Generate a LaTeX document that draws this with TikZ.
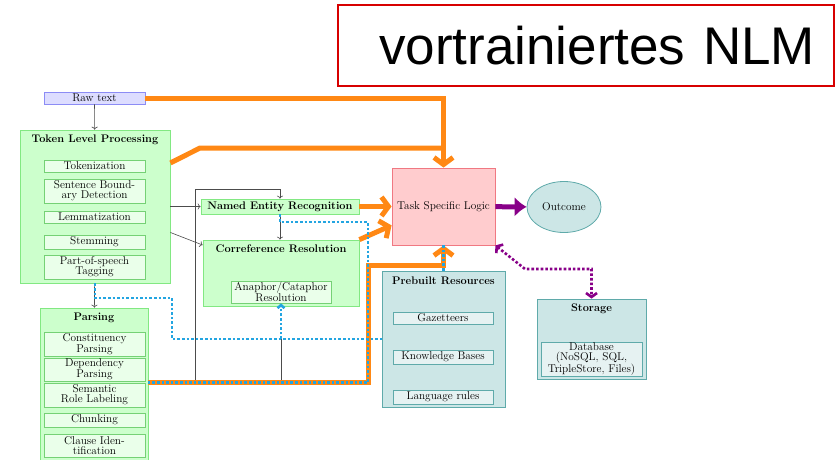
\documentclass[tikz,border=0pt]{standalone}
\usepackage{fontspec}
\usepackage{tikz}
\usetikzlibrary{arrows.meta,positioning,calc,shapes.geometric}
\newfontfamily\slidefont{Liberation Sans}
\definecolor{tokfill}{RGB}{204,255,204}
\definecolor{tokline}{RGB}{130,232,130}
\definecolor{stepfill}{RGB}{234,255,234}
\definecolor{rawfill}{RGB}{221,221,255}
\definecolor{rawline}{RGB}{140,140,245}
\definecolor{taskfill}{RGB}{255,204,206}
\definecolor{taskline}{RGB}{240,120,130}
\definecolor{resfill}{RGB}{204,230,230}
\definecolor{resline}{RGB}{95,170,170}
\definecolor{resitem}{RGB}{230,242,242}
\definecolor{feedorange}{RGB}{255,136,20}
\definecolor{dotblue}{RGB}{35,165,225}
\definecolor{outpurple}{RGB}{136,0,136}
\definecolor{slidered}{RGB}{215,0,0}

\tikzset{
  procbox/.style={draw=tokline, fill=tokfill, line width=0.8pt, inner sep=0pt},
  stepbox/.style={draw=tokline!90!black, fill=stepfill, line width=0.8pt, inner sep=0pt,
    minimum width=101pt, align=center},
  resbox/.style={draw=resline, fill=resfill, line width=0.8pt, inner sep=0pt},
  resitembox/.style={draw=resline, fill=resitem, line width=0.8pt, inner sep=0pt,
    minimum width=100pt, align=center},
  headtext/.style={font=\fontsize{11}{10}\selectfont\bfseries, inner sep=0pt},
  link/.style={draw=black!70, line width=0.6pt},
  feed/.style={draw=feedorange, line width=5pt},
  feedarrow/.style={feed, -{Straight Barb[length=7pt,width=19pt]}},
  bluedots/.style={draw=dotblue, line width=2.6pt, dash pattern=on 2.6pt off 2pt},
  purpledots/.style={draw=outpurple, line width=2.6pt, dash pattern=on 2.6pt off 2pt}
}

\begin{document}
\begin{tikzpicture}[x=1pt,y=-1pt,font=\fontsize{11.3}{10}\selectfont]
  \useasboundingbox (0,0) rectangle (838,459);

  % slide title
  \draw[slidered, line width=2pt] (338,5) rectangle (834,86);
  \node[inner sep=0pt, text width=459pt, align=right, font=\slidefont\fontsize{53}{60}\selectfont]
    (nlm) at (585.5,45.5) {vortrainiertes NLM};

  % input
  \node[draw=rawline, fill=rawfill, line width=0.8pt, inner sep=0pt,
    minimum width=101pt, minimum height=12pt] (raw) at (94.5,98) {Raw text};

  % token level processing
  \node[procbox, minimum width=150pt, minimum height=153pt] (tok) at (95,206.5) {};
  \node[headtext] at (95,140) {Token Level Processing};
  \node[stepbox, minimum height=12pt] (tokz) at (94.5,166) {Tokenization};
  \node[stepbox, minimum height=24pt] (sbd) at (94.5,191) {Sentence Bound-\\ary Detection};
  \node[stepbox, minimum height=12pt] (lem) at (94.5,217) {Lemmatization};
  \node[stepbox, minimum height=14pt] (stem) at (94.5,242) {Stemming};
  \node[stepbox, minimum height=24pt] (pos) at (94.5,267) {Part-of-speech\\Tagging};

  % parsing
  \node[procbox, minimum width=108pt, minimum height=154pt] (parse) at (94,385) {};
  \node[headtext] at (94,318) {Parsing};
  \node[stepbox, minimum height=24pt] (cons) at (94.5,344) {Constituency\\Parsing};
  \node[stepbox, minimum height=23pt] (dep) at (94.5,369.5) {Dependency\\Parsing};
  \node[stepbox, minimum height=24pt] (srl) at (94.5,395) {Semantic\\Role Labeling};
  \node[stepbox, minimum height=14pt] (chunk) at (94.5,420) {Chunking};
  \node[stepbox, minimum height=23pt] (clause) at (94.5,445.5) {Clause Iden-\\tification};

  % entities and coreference
  \node[procbox, minimum width=158pt, minimum height=15pt, font=\fontsize{11}{10}\selectfont\bfseries]
    (ner) at (280,206.5) {Named Entity Recognition};
  \node[procbox, minimum width=156pt, minimum height=66pt] (coref) at (281,273) {};
  \node[headtext] at (281,249) {Correference Resolution};
  \node[stepbox, minimum width=100pt, minimum height=22pt] (ana) at (281,292) {Anaphor/Cataphor\\Resolution};

  % task logic and outcome
  \node[draw=taskline, fill=taskfill, line width=0.8pt, minimum width=103pt, minimum height=77pt,
    inner sep=0pt] (task) at (443.5,206.5) {Task Specific Logic};
  \node[ellipse, draw=resline, fill=resfill, line width=0.8pt, minimum width=74pt,
    minimum height=51pt, inner sep=0pt] (out) at (564,207) {Outcome};

  % resources
  \node[resbox, minimum width=123pt, minimum height=136pt] (res) at (443.5,339) {};
  \node[headtext] at (443.5,281) {Prebuilt Resources};
  \node[resitembox, minimum height=12pt] (gaz) at (443,318) {Gazetteers};
  \node[resitembox, minimum height=14pt] (kb) at (443,357) {Knowledge Bases};
  \node[resitembox, minimum height=14pt] (rules) at (443,397) {Language rules};

  % storage
  \node[resbox, minimum width=109pt, minimum height=80pt] (store) at (591.5,339) {};
  \node[headtext] at (591.5,309) {Storage};
  \node[resitembox, minimum width=101pt, minimum height=34pt] (db) at (591.5,359)
    {Database\\(NoSQL, SQL,\\TripleStore, Files)};

  % bends
  \coordinate (tokbend) at (200,148);
  \coordinate (nerbend) at (195,189);
  \coordinate (resjoin) at (368,265);
  \coordinate (dotbend) at (172,298);
  \coordinate (nerdot) at (368,222);
  \coordinate (stbend) at (525,269);

  % thin links
  \draw[link,->] (raw) -- (tok);
  \draw[link,->] (tok) -- (parse);
  \draw[link,->] (tok.east) -- (ner.west);
  \draw[link,->] (tok.-19.5) -- (coref.west |- 0,245);
  \draw[link,->] (nerbend |- srl.north) -- (nerbend) -| (ner.north);
  \draw[link,->] (ner.south) -- (ner.south |- coref.north);
  \draw[link] (ana.south |- srl.north) -- (ana.south |- res.west);

  % orange feeds
  \draw[feedarrow] (raw.east) -| (task.north);
  \draw[feed, line join=round] (tok.30) -- (tokbend) -- (task.north |- tokbend);
  \draw[feedarrow] (ner.east) -- (task.west);
  \draw[feedarrow] (coref.north east) -- (task.200);
  \draw[feedarrow] (parse.east |- srl.north) -| (resjoin) -| (task.south);

  % blue dotted
  \draw[bluedots] (tok.south) |- (dotbend) |- (res.west);
  \draw[bluedots, -{Straight Barb[length=3pt,width=7pt]}] (ana.south |- res.west) -- (ana.south);
  \draw[bluedots] (ner.south) |- (nerdot) |- (parse.east |- srl.north);
  \draw[bluedots] (res.north) -- (task.south);

  % outcome and storage
  \draw[draw=outpurple, line width=5pt, -{Latex[length=12pt,width=20pt]}] (task) -- (out);
  \draw[purpledots, {Straight Barb[length=4pt,width=11pt]}-{Straight Barb[length=4pt,width=11pt]}]
    (task.south east) -- (stbend) -| (store.north);
\end{tikzpicture}
\end{document}
